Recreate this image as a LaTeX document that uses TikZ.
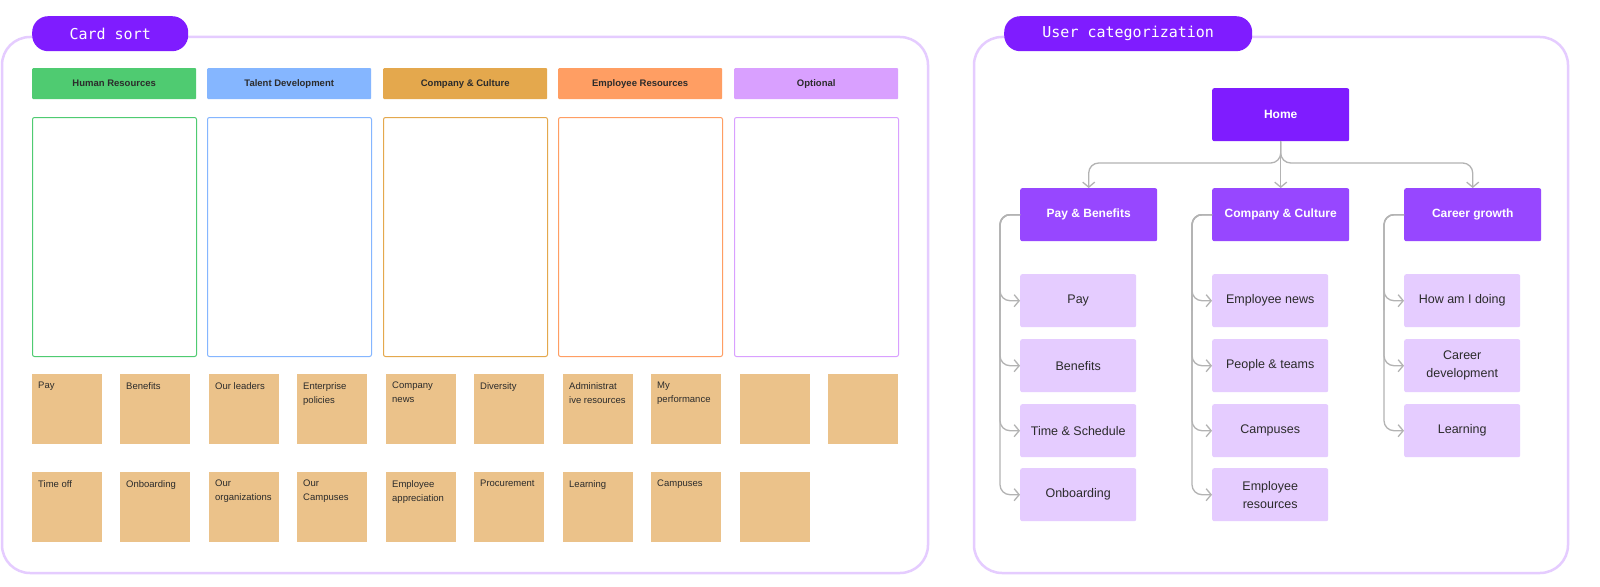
\documentclass[tikz,border=0pt]{standalone}
\usepackage{fontspec}
\setmainfont{Liberation Sans}
\newfontfamily\monof{DejaVu Sans Mono}
\usetikzlibrary{arrows.meta}
\definecolor{frame}{HTML}{E5CCFF}
\definecolor{vio}{HTML}{7F1CFF}
\definecolor{vio2}{HTML}{9747FF}
\definecolor{lav}{HTML}{E5CCFF}
\definecolor{cgreen}{HTML}{4FCB71}
\definecolor{cblue}{HTML}{85B6FF}
\definecolor{corange}{HTML}{E4A84D}
\definecolor{cpeach}{HTML}{FF9E63}
\definecolor{cpurple}{HTML}{D9A0FF}
\definecolor{sticky}{HTML}{EBC28A}
\definecolor{conn}{HTML}{B3B3B3}
\definecolor{txt}{HTML}{2B2B2B}
\begin{document}
\begin{tikzpicture}[x=1pt,y=-1pt,
  pill/.style={fill=vio,rounded corners=16pt,text=white,font=\monof\fontsize{15}{15}\selectfont,anchor=north west,inner sep=0pt},
  hdr/.style={anchor=north west,minimum width=164pt,minimum height=31pt,inner sep=0pt,rounded corners=1pt,font=\bfseries\fontsize{9.5}{10}\selectfont,text=txt},
  col/.style={draw=#1,line width=1pt,anchor=north west,minimum width=164pt,minimum height=239pt,inner sep=0pt,rounded corners=2pt},
  note/.style={fill=sticky,anchor=north west,minimum width=70pt,minimum height=70pt,inner sep=0pt},
  ntxt/.style={anchor=north west,align=left,font=\fontsize{9.5}{14}\selectfont,text=txt,inner sep=0pt},
  top/.style={fill=vio,text=white,font=\bfseries\fontsize{12}{12}\selectfont,minimum width=137pt,minimum height=53pt,anchor=north west,rounded corners=2pt},
  mid/.style={fill=vio2,text=white,font=\bfseries\fontsize{12}{12}\selectfont,minimum width=137pt,minimum height=53pt,anchor=north west,rounded corners=2pt},
  leaf/.style={fill=lav,text=txt,font=\fontsize{12.5}{18}\selectfont,align=center,minimum width=116pt,minimum height=53pt,anchor=north west,rounded corners=2pt},
  cn/.style={draw=conn,line width=1.3pt,rounded corners=10pt,-{Straight Barb[length=5pt,width=12pt]}}]
\fill[white] (0,0) rectangle (1600,586);
% frames
\draw[frame,line width=2.5pt,rounded corners=28pt] (2,37) rectangle (928,573);
\draw[frame,line width=2.5pt,rounded corners=28pt] (974,37) rectangle (1568,573);
\node[pill,minimum width=156pt,minimum height=35pt] (p1) at (32,16) {Card sort};
\node[pill,minimum width=248pt,minimum height=35pt] (p2) at (1004,16) {User categorization};
% headers & columns
\foreach \x/\c/\t [count=\i] in {32/cgreen/Human Resources,207/cblue/Talent Development,383/corange/Company \& Culture,558/cpeach/Employee Resources,734/cpurple/Optional}{
  \node[hdr,fill=\c] (h\i) at (\x,68) {\t};
  \node[col=\c] (c\i) at (\x,117) {};
}
% sticky notes
\foreach \x/\t [count=\i] in {32/Pay,120/Benefits,209/Our leaders,297/Enterprise\\policies,386/Company\\news,474/Diversity,563/Administrat\\ive resources,651/My\\performance,740/,828/}{
  \node[note] (a\i) at (\x,374) {};
  \node[ntxt] (at\i) at (\x+6,382) {\t};
}
\foreach \x/\t [count=\i] in {32/Time off,120/Onboarding,209/Our\\organizations,297/Our\\Campuses,386/Employee\\appreciation,474/Procurement,563/Learning,651/Campuses,740/}{
  \node[note] (b\i) at (\x,472) {};
  \node[ntxt] (bt\i) at (\x+6,480) {\t};
}
% tree
\node[top] (home) at (1212,88) {Home};
\node[mid] (m1) at (1020,188) {Pay \& Benefits};
\node[mid] (m2) at (1212,188) {Company \& Culture};
\node[mid] (m3) at (1404,188) {Career growth};
\draw[cn] (home.south) |- (1180,163) -| (m1.north);
\draw[cn] (home.south) |- (1380,163) -| (m3.north);
\draw[cn] (home.south) -- (m2.north);
\node[leaf] (l11) at (1020,274) {Pay};
\node[leaf] (l12) at (1020,339) {Benefits};
\node[leaf] (l13) at (1020,404) {Time \& Schedule};
\node[leaf] (l14) at (1020,468) {Onboarding};
\node[leaf] (l21) at (1212,274) {Employee news};
\node[leaf] (l22) at (1212,339) {People \& teams};
\node[leaf] (l23) at (1212,404) {Campuses};
\node[leaf] (l24) at (1212,468) {Employee\\resources};
\node[leaf] (l31) at (1404,274) {How am I doing};
\node[leaf] (l32) at (1404,339) {Career\\development};
\node[leaf] (l33) at (1404,404) {Learning};
\foreach \l in {l11,l12,l13,l14}{\draw[cn] (m1.west) -| (1000,300) |- (\l.west);}
\foreach \l in {l21,l22,l23,l24}{\draw[cn] (m2.west) -| (1192,300) |- (\l.west);}
\foreach \l in {l31,l32,l33}{\draw[cn] (m3.west) -| (1384,300) |- (\l.west);}
\pgfresetboundingbox
\useasboundingbox (0,0) rectangle (1600,586);
\end{tikzpicture}
\end{document}
